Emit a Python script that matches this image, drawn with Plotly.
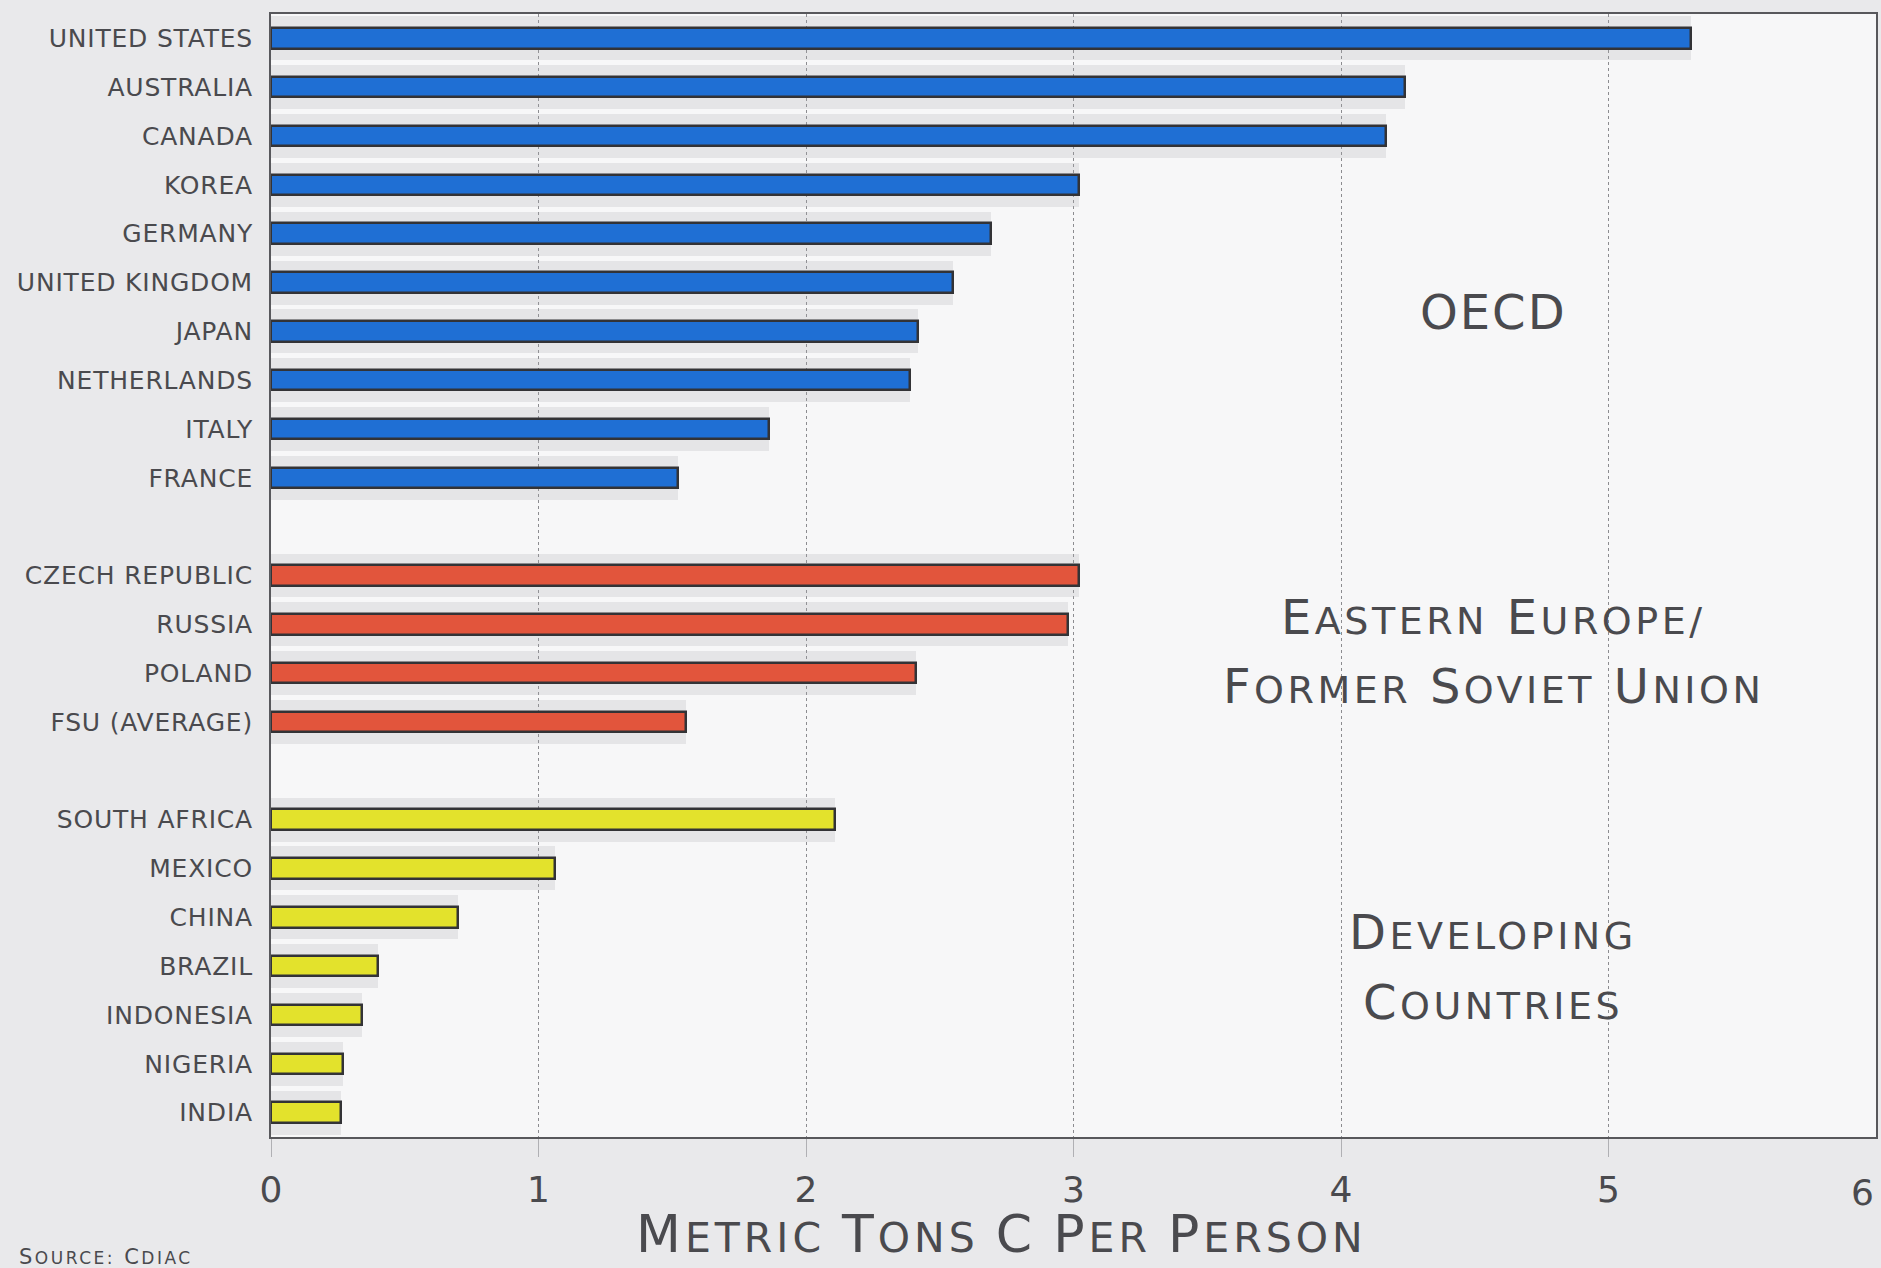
import plotly.graph_objects as go

# Per-capita carbon emissions, metric tons of carbon per person
oecd_countries = ["UNITED STATES", "AUSTRALIA", "CANADA", "KOREA", "GERMANY",
                  "UNITED KINGDOM", "JAPAN", "NETHERLANDS", "ITALY", "FRANCE"]
oecd_values = [5.31, 4.24, 4.17, 3.02, 2.69, 2.55, 2.42, 2.39, 1.86, 1.52]

eefsu_countries = ["CZECH REPUBLIC", "RUSSIA", "POLAND", "FSU (AVERAGE)"]
eefsu_values = [3.02, 2.98, 2.41, 1.55]

dev_countries = ["SOUTH AFRICA", "MEXICO", "CHINA", "BRAZIL", "INDONESIA",
                 "NIGERIA", "INDIA"]
dev_values = [2.11, 1.06, 0.70, 0.40, 0.34, 0.27, 0.26]

x_ticks = [0, 1, 2, 3, 4, 5, 6]

FONT = "DejaVu Sans"
INK = "#4a4a4e"
OUTLINE = "#333336"

groups = [
    (oecd_countries, oecd_values, "#1f6fd4"),
    (eefsu_countries, eefsu_values, "#e2553c"),
    (dev_countries, dev_values, "#e3e22c"),
]


def spaced(text, px):
    return f"<span style='letter-spacing:{px}px'>{text}</span>"


def small_caps(text, small, px):
    """Small caps: first letter of each word full size, the rest smaller."""
    words = []
    for w in text.split(" "):
        if len(w) > 1:
            words.append(f"{w[0]}<span style='font-size:{small}px'>{w[1:]}</span>")
        else:
            words.append(w)
    return spaced(" ".join(words), px)


def small_caps_big(text, big, px):
    """Small caps on a small base size: first letter of each word enlarged."""
    words = []
    for w in text.split(" "):
        words.append(f"<span style='font-size:{big}px'>{w[0]}</span>{w[1:]}")
    return spaced(" ".join(words), px)


# Stack the groups top to bottom, leaving one empty row between groups
fig = go.Figure()
tick_pos, tick_txt = [], []
row = 0
for names, vals, color in groups:
    pos = list(range(row, row + len(names)))
    tick_pos += pos
    tick_txt += [spaced(n, 0.8) for n in names]
    # soft grey shading behind the bars
    fig.add_trace(go.Bar(
        x=vals, y=pos, orientation="h", width=0.9,
        marker=dict(color="rgba(170,170,175,0.22)", line=dict(width=0)),
        hoverinfo="skip", showlegend=False,
    ))
    fig.add_trace(go.Bar(
        x=vals, y=pos, orientation="h", width=0.42,
        marker=dict(color=color, line=dict(color=OUTLINE, width=2.5)),
        showlegend=False,
    ))
    row += len(names) + 1
last_row = tick_pos[-1]

fig.update_layout(
    width=1881, height=1268,
    margin=dict(l=271, r=3, t=14, b=131),
    paper_bgcolor="#e9e9eb",
    plot_bgcolor="#f7f7f8",
    font=dict(family=FONT, color=INK),
    barmode="overlay",
    bargap=0,
    showlegend=False,
)

# The last tick sits on the page edge, so its label is placed as an annotation
inner_ticks = x_ticks[:-1]
fig.update_xaxes(
    range=[0, x_ticks[-1]], tickvals=inner_ticks,
    ticktext=[str(t) for t in inner_ticks],
    showgrid=True, gridcolor="#8c8c90", gridwidth=1, griddash="dot",
    zeroline=False,
    showline=True, linecolor="#58585c", linewidth=2, mirror=True,
    ticks="outside", ticklen=18, tickcolor="#b0b0b4", tickwidth=1,
    ticklabelstandoff=2,
    tickfont=dict(size=36, color=INK, family=FONT),
)
fig.add_annotation(
    text=str(x_ticks[-1]), x=x_ticks[-1], xref="x", xanchor="right",
    y=-0.049, yref="paper", yanchor="middle", showarrow=False,
    font=dict(size=36, color=INK, family=FONT),
)
fig.update_yaxes(
    range=[last_row + 0.5, -0.5], tickvals=tick_pos, ticktext=tick_txt,
    showgrid=False, zeroline=False,
    showline=True, linecolor="#58585c", linewidth=2, mirror=True,
    ticks="", ticklabelstandoff=11,
    tickfont=dict(size=25, color=INK, family=FONT),
)

label_x = 4.57
annotations = [
    dict(text=spaced("OECD", 2), x=label_x, y=5.6),
    dict(text=small_caps("EASTERN EUROPE/", 38, 3.5), x=label_x, y=11.85),
    dict(text=small_caps("FORMER SOVIET UNION", 38, 3.5), x=label_x, y=13.26),
    dict(text=small_caps("DEVELOPING", 38, 3.5), x=label_x, y=18.3),
    dict(text=small_caps("COUNTRIES", 38, 3.5), x=label_x, y=19.73),
]
for a in annotations:
    fig.add_annotation(
        text=a["text"], x=a["x"], y=a["y"], xref="x", yref="y",
        showarrow=False, xanchor="center", yanchor="middle",
        font=dict(size=48, color=INK, family=FONT),
    )

fig.add_annotation(
    text=small_caps_big("METRIC TONS C PER PERSON", 52, 4),
    x=0.455, y=-0.1145, xref="paper", yref="paper",
    showarrow=False, xanchor="center", yanchor="bottom",
    font=dict(size=41, color=INK, family=FONT),
)
fig.add_annotation(
    text=small_caps("SOURCE: CDIAC", 17, 2.5),
    x=-0.158, y=-0.107, xref="paper", yref="paper",
    showarrow=False, xanchor="left", yanchor="middle",
    font=dict(size=21, color=INK, family=FONT),
)

fig.write_html("out.html")
